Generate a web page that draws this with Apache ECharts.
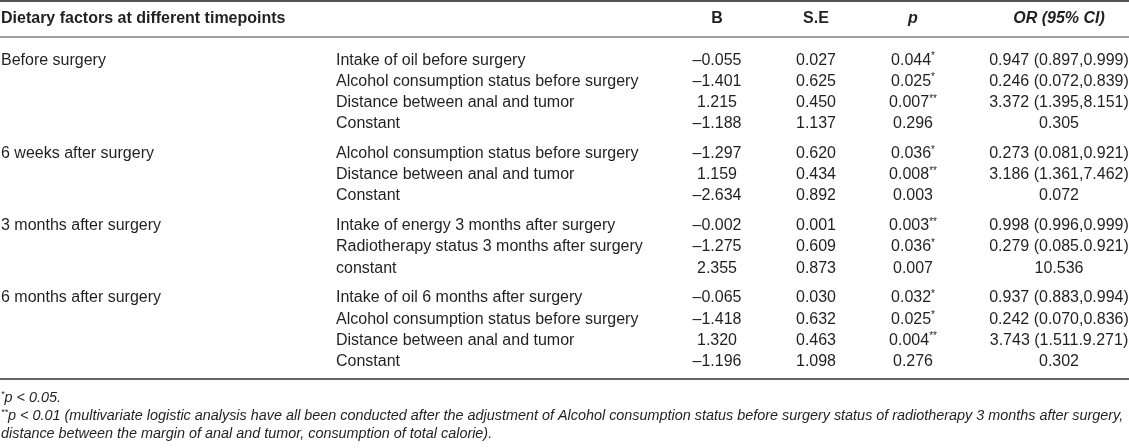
<!DOCTYPE html>
<html>
<head>
<meta charset="utf-8">
<script src="https://cdn.jsdelivr.net/npm/echarts@6/dist/echarts.min.js"></script>
<style>
html,body{margin:0;padding:0;background:#fff;}
#main{width:1129px;height:448px;}
</style>
</head>
<body>
<div id="main"></div>
<script>
// table data
var timepoints = ['Before surgery', '6 weeks after surgery', '3 months after surgery', '6 months after surgery'];
var groupSizes = [4, 3, 3, 4];
var factors = [
	'Intake of oil before surgery',
	'Alcohol consumption status before surgery',
	'Distance between anal and tumor',
	'Constant',
	'Alcohol consumption status before surgery',
	'Distance between anal and tumor',
	'Constant',
	'Intake of energy 3 months after surgery',
	'Radiotherapy status 3 months after surgery',
	'constant',
	'Intake of oil 6 months after surgery',
	'Alcohol consumption status before surgery',
	'Distance between anal and tumor',
	'Constant'
];
var bValues = [-0.055, -1.401, 1.215, -1.188, -1.297, 1.159, -2.634, -0.002, -1.275, 2.355, -0.065, -1.418, 1.320, -1.196];
var seValues = [0.027, 0.625, 0.450, 1.137, 0.620, 0.434, 0.892, 0.001, 0.609, 0.873, 0.030, 0.632, 0.463, 1.098];
var pValues = [0.044, 0.025, 0.007, 0.296, 0.036, 0.008, 0.003, 0.003, 0.036, 0.007, 0.032, 0.025, 0.004, 0.276];
var pStars = ['*', '*', '**', '', '*', '**', '', '**', '*', '', '*', '*', '**', ''];
var orCI = [
	'0.947 (0.897,0.999)', '0.246 (0.072,0.839)', '3.372 (1.395,8.151)', '0.305',
	'0.273 (0.081,0.921)', '3.186 (1.361,7.462)', '0.072',
	'0.998 (0.996,0.999)', '0.279 (0.085.0.921)', '10.536',
	'0.937 (0.883,0.994)', '0.242 (0.070,0.836)', '3.743 (1.511.9.271)', '0.302'
];
var headers = ['Dietary factors at different timepoints', 'B', 'S.E', 'p', 'OR (95% CI)'];
var footnotes = [
	['*', 'p < 0.05.'],
	['**', 'p < 0.01 (multivariate logistic analysis have all been conducted after the adjustment of Alcohol consumption status before surgery status of radiotherapy 3 months after surgery,'],
	['', 'distance between the margin of anal and tumor, consumption of total calorie).']
];

// layout
var colX = [1, 336, 717, 816, 913, 1059];
var GAP = 0.417;	// extra space between groups, in rows
var FONT = '"Liberation Sans", Arial, Helvetica, sans-serif';
var INK = '#231f20';

// row positions: index + group gaps
var rows = [], groupOf = [], firstOfGroup = [];
var k = 0;
for (var g = 0; g < groupSizes.length; g++) {
	for (var j = 0; j < groupSizes[g]; j++) {
		rows.push([0, k + g * GAP]);
		groupOf.push(g);
		firstOfGroup.push(j == 0);
		k++;
	}
}
var lastY = rows[rows.length - 1][1];

function fmt(v){
	return v.toFixed(3).replace('-', '\u2013');
}

var chart = echarts.init(document.getElementById('main'));

function cellText(x, y, text, align, rich){
	return {
		type: 'text',
		x: x,
		y: y,
		style: {
			text: text,
			fill: INK,
			fontSize: 16,
			fontFamily: FONT,
			align: align,
			verticalAlign: 'middle',
			rich: rich
		}
	};
}

var starRich = {
	s: {fontSize: 10, fontFamily: FONT, fill: INK, verticalAlign: 'top', lineHeight: 18},
	n: {fontSize: 16, fontFamily: FONT, fill: INK, lineHeight: 18}
};

function headerText(i){
	return {
		type: 'text',
		x: colX[i == 0 ? 0 : i + 1],
		y: 18.5,
		style: {
			text: headers[i],
			fill: INK,
			fontSize: 16,
			fontWeight: 'bold',
			fontStyle: i >= 3 ? 'italic' : 'normal',
			fontFamily: FONT,
			align: i == 0 ? 'left' : 'center',
			verticalAlign: 'middle'
		}
	};
}

var graphics = [];
for (var h = 0; h < headers.length; h++) graphics.push(headerText(h));
graphics.push({type: 'line', shape: {x1: 0, y1: 1, x2: 1129, y2: 1}, style: {stroke: '#555', lineWidth: 2}});
graphics.push({type: 'line', shape: {x1: 0, y1: 37, x2: 1129, y2: 37}, style: {stroke: '#808080', lineWidth: 1.5}});
graphics.push({type: 'line', shape: {x1: 0, y1: 379, x2: 1129, y2: 379}, style: {stroke: '#666', lineWidth: 2}});
for (var f = 0; f < footnotes.length; f++) {
	graphics.push({
		type: 'text',
		x: 1,
		y: 397.5 + f * 18.3,
		style: {
			text: (footnotes[f][0] ? '{s|' + footnotes[f][0] + '}' : '') + '{t|' + footnotes[f][1] + '}',
			fill: INK,
			fontFamily: FONT,
			fontSize: 14.4,
			fontStyle: 'italic',
			align: 'left',
			verticalAlign: 'middle',
			rich: {
				s: {fontSize: 9, fontStyle: 'italic', fontFamily: FONT, fill: INK, verticalAlign: 'top', lineHeight: 16},
				t: {fontSize: 14.4, fontStyle: 'italic', fontFamily: FONT, fill: INK, lineHeight: 16}
			}
		}
	});
}

chart.setOption({
	animation: false,
	grid: {left: 0, right: 0, top: 50.05, bottom: 76.15},
	xAxis: {type: 'value', min: 0, max: 1129, show: false},
	yAxis: {type: 'value', min: -0.5, max: lastY + 0.5, inverse: true, show: false},
	graphic: graphics,
	series: [{
		type: 'custom',
		clip: false,
		data: rows,
		encode: {x: 0, y: 1},
		renderItem: function(params, api){
			var i = params.dataIndex;
			var yv = api.value(1);
			var y = api.coord([0, yv])[1];
			var pos = function(c){ return api.coord([colX[c], yv])[0]; };
			var kids = [];
			if (firstOfGroup[i])
				kids.push(cellText(pos(0), y, timepoints[groupOf[i]], 'left'));
			kids.push(cellText(pos(1), y, factors[i], 'left'));
			kids.push(cellText(pos(2), y, fmt(bValues[i]), 'center'));
			kids.push(cellText(pos(3), y, fmt(seValues[i]), 'center'));
			var pt = '{n|' + pValues[i].toFixed(3) + '}' + (pStars[i] ? '{s|' + pStars[i] + '}' : '');
			kids.push(cellText(pos(4), y, pt, 'center', starRich));
			kids.push(cellText(pos(5), y, orCI[i], 'center'));
			return {type: 'group', children: kids};
		}
	}]
});
</script>
</body>
</html>
